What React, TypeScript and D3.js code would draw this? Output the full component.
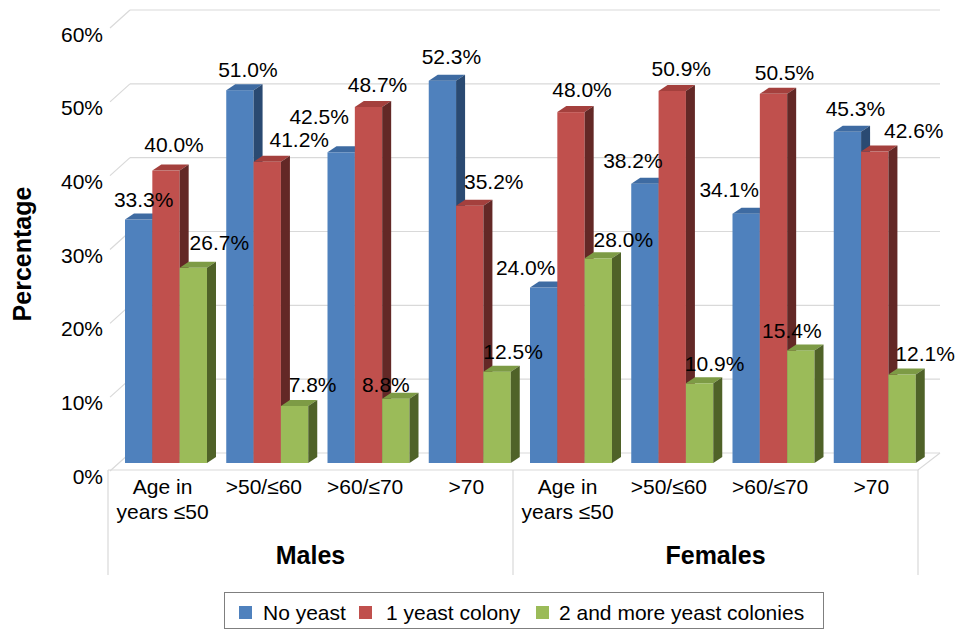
import React from "react";
import * as d3 from "d3";

// ---------- data ----------
const ageGroups: string[][] = [["Age in", "years ≤50"], [">50/≤60"], [">60/≤70"], [">70"]];
const sexes = ["Males", "Females"];
const categories = sexes.flatMap((s) => ageGroups.map((_, i) => `${s}-${i}`));
const seriesNames = ["No yeast", "1 yeast colony", "2 and more yeast colonies"];
const noYeast = [33.3, 51.0, 42.5, 52.3, 24.0, 38.2, 34.1, 45.3];
const oneColony = [40.0, 41.2, 48.7, 35.2, 48.0, 50.9, 50.5, 42.6];
const twoPlus = [26.7, 7.8, 8.8, 12.5, 28.0, 10.9, 15.4, 12.1];
const yTicks = [0, 10, 20, 30, 40, 50, 60];
const seriesValues = [noYeast, oneColony, twoPlus];

// ---------- layout / style ----------
const W = 956, H = 630;
const frontColors = ["#4F81BD", "#C0504D", "#9BBB59"];
const topColors = ["#3E6BA2", "#A4403D", "#7D9B45"];
const sideColors = ["#2A4A72", "#632826", "#4F6228"];
// manual label nudges (px) relative to bar front-top centre
const labelNudgeX = [
  [5, 8, -22, 9, -18, -12, -17, 8],
  [8, 32, 9, 24, 11, 9, 11, 39],
  [26, 18, -10, 16, 25, 15, -9, 23],
];
const labelNudgeY = [
  [-20, -21, -36, -24, -20, -23, -24, -23],
  [-26, -22, -23, -24, -23, -22, -21, -21],
  [-25, -21, -14, -20, -19, -20, -20, -21],
];
const FONT = "'Liberation Sans', Arial, sans-serif";
const DEPTH_X = 22, DEPTH_Y = -17; // floor depth
const BAR_DX = 9, BAR_DY = -6; // bar depth

export default function App() {
  const x0 = d3.scaleBand<string>().domain(categories).range([108, 918]).padding(0);
  const x1 = d3.scaleBand<number>().domain([0, 1, 2]).range([17, 99]).padding(0);
  const yBar = d3.scaleLinear().domain([0, 60]).range([463, 463 - 60 * 7.31]);
  const yWall = d3.scaleLinear().domain([0, 60]).range([453, 10]);
  const yLabel = d3.scaleLinear().domain([0, 60]).range([476, 34]);
  const frontFloorY = yWall(0) - DEPTH_Y;
  const left = x0.range()[0], right = x0.range()[1];
  const mid = x0(categories[4])!;
  const bw = x1.bandwidth();

  const bars: JSX.Element[] = [];
  const labels: JSX.Element[] = [];
  categories.forEach((c, ci) => {
    seriesValues.forEach((vals, si) => {
      const v = vals[ci];
      const x = x0(c)! + x1(si)!;
      const yt = yBar(v);
      const yb = yBar(0);
      bars.push(
        <g key={`b${ci}-${si}`}>
          <rect x={x} y={yt} width={bw} height={yb - yt} fill={frontColors[si]} />
          <path
            d={`M${x},${yt}L${x + BAR_DX},${yt + BAR_DY}L${x + bw + BAR_DX},${yt + BAR_DY}L${x + bw},${yt}Z`}
            fill={topColors[si]}
          />
          <path
            d={`M${x + bw},${yt}L${x + bw + BAR_DX},${yt + BAR_DY}L${x + bw + BAR_DX},${yb + BAR_DY}L${x + bw},${yb}Z`}
            fill={sideColors[si]}
          />
        </g>
      );
      labels.push(
        <text
          key={`l${ci}-${si}`}
          x={x + bw / 2 + labelNudgeX[si][ci]}
          y={yt + labelNudgeY[si][ci] + 7.5}
          textAnchor="middle"
          fontSize={21}
          fill="#000"
        >
          {v.toFixed(1)}%
        </text>
      );
    });
  });

  const legendItems = [
    { sq: 239, tx: 263 },
    { sq: 359, tx: 386 },
    { sq: 536, tx: 559 },
  ];

  return (
    <svg
      width={W}
      height={H}
      viewBox={`0 0 ${W} ${H}`}
      style={{ position: "absolute", left: 0, top: 0, background: "#fff" }}
      fontFamily={FONT}
    >
      <rect width={W} height={H} fill="#fff" />
      {/* back wall gridlines + left wall diagonals */}
      {yTicks.map((t) => (
        <g key={`g${t}`}>
          <line x1={left + DEPTH_X} x2={right + DEPTH_X} y1={yWall(t)} y2={yWall(t)} stroke="#D9D9D9" strokeWidth={1.2} />
          <line x1={left + 2} y1={yWall(t) - DEPTH_Y + 1} x2={left + DEPTH_X} y2={yWall(t)} stroke="#D9D9D9" strokeWidth={1.2} />
          <text x={103} y={yLabel(t) + 7.5} textAnchor="end" fontSize={21} fill="#000">
            {t}%
          </text>
        </g>
      ))}
      {/* floor */}
      <path
        d={`M${left},${frontFloorY}L${right},${frontFloorY}L${right + DEPTH_X},${yWall(0)}`}
        fill="none"
        stroke="#D9D9D9"
        strokeWidth={1.2}
      />
      {/* category dividers */}
      {[left, mid, right].map((x) => (
        <line key={`d${x}`} x1={x} x2={x} y1={frontFloorY} y2={575} stroke="#D9D9D9" strokeWidth={1.2} />
      ))}
      {bars}
      {labels}
      {/* category labels */}
      {categories.map((c, ci) => {
        const lines = ageGroups[ci % 4];
        const cx = x0(c)! + x0.bandwidth() / 2 + 4;
        return (
          <text key={`c${ci}`} textAnchor="middle" fontSize={21} fill="#000">
            {lines.map((ln, li) => (
              <tspan key={li} x={cx} y={494 + li * 25}>
                {ln}
              </tspan>
            ))}
          </text>
        );
      })}
      {sexes.map((s, i) => (
        <text
          key={s}
          x={i === 0 ? (left + mid) / 2 : (mid + right) / 2}
          y={564}
          textAnchor="middle"
          fontSize={25}
          fontWeight="bold"
        >
          {s}
        </text>
      ))}
      {/* y axis title */}
      <text
        transform="translate(31,254) rotate(-90)"
        textAnchor="middle"
        fontSize={25}
        fontWeight="bold"
      >
        Percentage
      </text>
      {/* legend */}
      <rect x={224.5} y={592.5} width={599} height={36} fill="#fff" stroke="#7F7F7F" strokeWidth={1} />
      {seriesNames.map((n, i) => (
        <g key={n}>
          <rect x={legendItems[i].sq} y={606} width={13} height={13} fill={frontColors[i]} />
          <text x={legendItems[i].tx} y={619.5} fontSize={21}>
            {n}
          </text>
        </g>
      ))}
    </svg>
  );
}
